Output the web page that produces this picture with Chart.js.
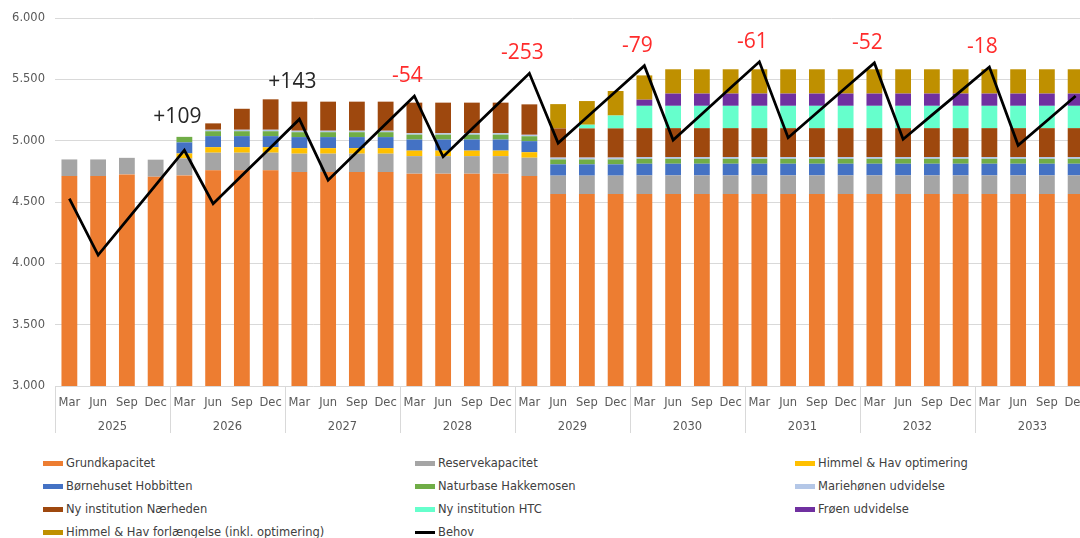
<!DOCTYPE html>
<html>
<head>
<meta charset="utf-8">
<script src="https://cdn.jsdelivr.net/npm/chart.js@4"></script>
<style>
  body { margin: 0; background: #fff; overflow: hidden; width: 1080px; height: 538px; position: relative; }
  #wrap { position: absolute; left: 0; top: 0; width: 1100px; height: 448px; }
  #legend { position: absolute; left: 0; top: 452px; width: 1080px; font-family: "DejaVu Sans", sans-serif; font-size: 11.5px; color: #404040; }
  .lg-item { position: absolute; height: 23px; line-height: 23px; white-space: nowrap; }
  .lg-mark { display: inline-block; width: 20px; vertical-align: middle; margin-right: 3px; }
</style>
</head>
<body>
<div id="wrap"><canvas id="chart" width="1100" height="448"></canvas></div>
<div id="legend"></div>
<script>
const years = ["2025", "2026", "2027", "2028", "2029", "2030", "2031", "2032", "2033"]
const months = ["Mar", "Jun", "Sep", "Dec"]

// kapacitet pr. kvartal (Mar 2025 .. Dec 2033)
const grundkapacitet = [
  4711, 4711, 4725, 4706, 4717, 4758, 4758, 4758, 4744, 4744, 4744, 4744,
  4731, 4731, 4731, 4731, 4711, 4565, 4565, 4565, 4565, 4565, 4565, 4565,
  4565, 4565, 4565, 4565, 4565, 4565, 4565, 4565, 4565, 4565, 4565, 4565,
]
const reservekapacitet = [
  136, 136, 135, 139, 139, 144, 144, 144, 150, 150, 150, 150,
  143, 143, 143, 143, 150, 150, 150, 150, 152, 152, 152, 152,
  152, 152, 152, 152, 152, 152, 152, 152, 152, 152, 152, 152,
]
const himmelHavOptimering = [
  0, 0, 0, 0, 40, 45, 45, 45, 45, 45, 45, 45,
  45, 45, 45, 45, 45, 0, 0, 0, 0, 0, 0, 0,
  0, 0, 0, 0, 0, 0, 0, 0, 0, 0, 0, 0,
]
const hobbitten = [
  0, 0, 0, 0, 90, 90, 90, 90, 90, 90, 90, 90,
  90, 90, 90, 90, 90, 92, 92, 92, 95, 95, 95, 95,
  95, 95, 95, 95, 95, 95, 95, 95, 95, 95, 95, 95,
]
const hakkemosen = [
  0, 0, 0, 0, 45, 40, 40, 40, 40, 40, 40, 40,
  40, 40, 40, 40, 40, 40, 40, 40, 40, 40, 40, 40,
  40, 40, 40, 40, 40, 40, 40, 40, 40, 40, 40, 40,
]
const mariehonen = [
  0, 0, 0, 0, 0, 12, 12, 12, 12, 12, 12, 12,
  12, 12, 12, 12, 12, 15, 15, 15, 15, 15, 15, 15,
  15, 15, 15, 15, 15, 15, 15, 15, 15, 15, 15, 15,
]
const naerheden = [
  0, 0, 0, 0, 0, 52, 171, 248, 237, 237, 237, 237,
  249, 249, 249, 249, 248, 238, 238, 238, 235, 235, 235, 235,
  235, 235, 235, 235, 235, 235, 235, 235, 235, 235, 235, 235,
]
const htc = [
  0, 0, 0, 0, 0, 0, 0, 0, 0, 0, 0, 0,
  0, 0, 0, 0, 0, 0, 30, 105, 182, 182, 182, 182,
  182, 182, 182, 182, 182, 182, 182, 182, 182, 182, 182, 182,
]
const froen = [
  0, 0, 0, 0, 0, 0, 0, 0, 0, 0, 0, 0,
  0, 0, 0, 0, 0, 0, 0, 0, 50, 100, 100, 100,
  100, 100, 100, 100, 100, 100, 100, 100, 100, 100, 100, 100,
]
const himmelHavForlaengelse = [
  0, 0, 0, 0, 0, 0, 0, 0, 0, 0, 0, 0,
  0, 0, 0, 0, 0, 198, 193, 200, 198, 198, 198, 198,
  198, 198, 198, 198, 198, 198, 198, 198, 198, 198, 198, 198,
]
const behov = [
  4527, 4067, 4352, 4637, 4922, 4486, 4716, 4945, 5175, 4678, 4907, 5135,
  5364, 4869, 5096, 5322, 5549, 4980, 5191, 5401, 5611, 5005, 5218, 5431,
  5643, 5024, 5228, 5432, 5634, 5011, 5208, 5404, 5600, 4962, 5163, 5364,
]

// difference labels shown over the March peaks
const gapIndex = [4, 8, 12, 16, 20, 24, 28, 32]
const gapLabels = ["+109", "+143", "-54", "-253", "-79", "-61", "-52", "-18"]

const labels = []
years.forEach(() => months.forEach((m) => labels.push(m)))

const tickFont = { family: "DejaVu Sans", size: 11.5 }
const tickColor = "#595959"

function fmt(v) {
  return String(v).replace(/\B(?=(\d{3})+(?!\d))/g, ".")
}

function bar(label, data, color) {
  return { type: "bar", label: label, data: data, backgroundColor: color, stack: "kap", barPercentage: 0.55, categoryPercentage: 1 }
}

const datasets = [
  bar("Grundkapacitet", grundkapacitet, "#ED7D31"),
  bar("Reservekapacitet", reservekapacitet, "#A5A5A5"),
  bar("Himmel & Hav optimering", himmelHavOptimering, "#FFC000"),
  bar("Børnehuset Hobbitten", hobbitten, "#4472C4"),
  bar("Naturbase Hakkemosen", hakkemosen, "#70AD47"),
  bar("Mariehønen udvidelse", mariehonen, "#B4C7E7"),
  bar("Ny institution Nærheden", naerheden, "#9E480E"),
  bar("Ny institution HTC", htc, "#66FFCC"),
  bar("Frøen udvidelse", froen, "#7030A0"),
  bar("Himmel & Hav forlængelse (inkl. optimering)", himmelHavForlaengelse, "#BF9000"),
  {
    type: "line", label: "Behov", data: behov, stack: "behov", borderColor: "#000000",
    backgroundColor: "#000000", borderWidth: 2.75, pointRadius: 0, tension: 0, order: -1,
  },
]

// year row + separators under the month labels
const yearAxis = {
  id: "yearAxis",
  afterDraw(chart) {
    const ctx = chart.ctx
    const x = chart.scales.x
    const area = chart.chartArea
    const catW = (x.right - x.left) / labels.length
    ctx.save()
    ctx.strokeStyle = "#D9D9D9"
    ctx.lineWidth = 1
    for (let i = 0; i <= years.length; i++) {
      const px = Math.round(x.left + i * months.length * catW) + 0.5
      ctx.beginPath()
      ctx.moveTo(px, area.bottom)
      ctx.lineTo(px, area.bottom + 47)
      ctx.stroke()
    }
    ctx.fillStyle = tickColor
    ctx.font = "11.5px 'DejaVu Sans'"
    ctx.textAlign = "center"
    ctx.textBaseline = "middle"
    years.forEach((y, i) => {
      ctx.fillText(y, x.left + (i + 0.5) * months.length * catW, area.bottom + 41)
    })
    ctx.restore()
  },
}

// +/- labels above each March peak
const gapText = {
  id: "gapText",
  afterDatasetsDraw(chart) {
    const ctx = chart.ctx
    const x = chart.scales.x
    const y = chart.scales.y
    ctx.save()
    ctx.font = "21px 'Open Sans'"
    ctx.textAlign = "center"
    ctx.textBaseline = "middle"
    gapIndex.forEach((idx, k) => {
      let total = 0
      datasets.forEach((d) => { if (d.type === "bar") total += d.data[idx] })
      const top = Math.min(y.getPixelForValue(total), y.getPixelForValue(behov[idx]))
      ctx.fillStyle = gapLabels[k].charAt(0) === "-" ? "#FF2B2B" : "#262626"
      ctx.fillText(gapLabels[k], x.getPixelForValue(idx) - 7, top - 20)
    })
    ctx.restore()
  },
}

const chart = new Chart(document.getElementById("chart"), {
  data: { labels: labels, datasets: datasets },
  options: {
    responsive: false,
    animation: false,
    devicePixelRatio: 1,
    layout: { padding: { top: 18, right: 10, left: 0, bottom: 0 } },
    plugins: { legend: { display: false }, tooltip: { enabled: false } },
    scales: {
      x: {
        stacked: true,
        grid: { display: false, drawTicks: false },
        border: { display: false },
        ticks: { font: tickFont, color: tickColor, padding: 10, maxRotation: 0, autoSkip: false },
        afterFit: (s) => { s.height = 62 },
      },
      y: {
        stacked: true,
        min: 3000,
        max: 6000,
        grid: { color: "#D9D9D9", drawTicks: false },
        border: { display: false },
        ticks: { stepSize: 500, font: tickFont, color: tickColor, padding: 10, callback: (v) => fmt(v) },
        afterFit: (s) => { s.width = 55 },
      },
    },
  },
  plugins: [yearAxis, gapText],
})

// legend in three columns, filled row by row
const legendEl = document.getElementById("legend")
const colX = [43, 415, 795]
chart.data.datasets.forEach((d, i) => {
  const item = document.createElement("div")
  item.className = "lg-item"
  item.style.left = colX[i % 3] + "px"
  item.style.top = Math.floor(i / 3) * 23 + "px"
  const mark = document.createElement("span")
  mark.className = "lg-mark"
  mark.style.height = d.type === "line" ? "3px" : "5px"
  mark.style.background = d.type === "line" ? d.borderColor : d.backgroundColor
  item.appendChild(mark)
  item.appendChild(document.createTextNode(d.label))
  legendEl.appendChild(item)
})
</script>
</body>
</html>
